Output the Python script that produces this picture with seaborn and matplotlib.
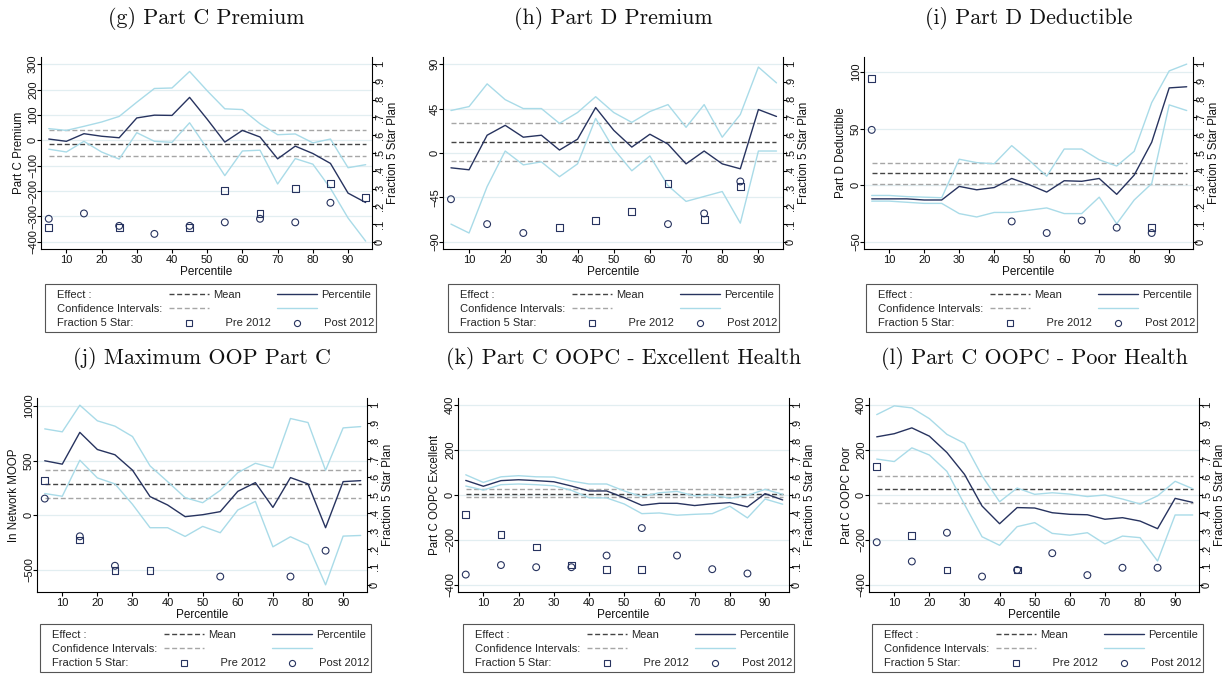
import numpy as np
import pandas as pd
import matplotlib
matplotlib.use("Agg")
import matplotlib.pyplot as plt
from matplotlib.lines import Line2D
from matplotlib.patches import Rectangle
import seaborn as sns

# ---------------- data ----------------
pct = [5, 10, 15, 20, 25, 30, 35, 40, 45, 50, 55, 60, 65, 70, 75, 80, 85, 90, 95]
frac_ticks = [0, .1, .2, .3, .4, .5, .6, .7, .8, .9, 1]
frac_labels = ["0", ".1", ".2", ".3", ".4", ".5", ".6", ".7", ".8", ".9", "1"]

# (g) Part C Premium
g_pctl = [5, -4, 26, 16, 10, 88, 99, 98, 169, 83, -7, 39, 13, -73, -23, -52, -91, -208, -245]
g_upper = [46, 39, 55, 72, 94, 150, 204, 206, 271, 195, 124, 121, 65, 22, 25, -10, 5, -108, -96]
g_lower = [-35, -46, -4, -46, -74, 30, -4, -8, 69, -33, -139, -42, -39, -172, -72, -94, -189, -306, -397]
g_mean = [-13, -63, 42]  # mean, lower CI, upper CI
g_pre_x = [5, 25, 45, 55, 65, 75, 85, 95]
g_pre = [0.08, 0.08, 0.08, 0.29, 0.16, 0.30, 0.33, 0.25]
g_post_x = [5, 15, 25, 35, 45, 55, 65, 75, 85]
g_post = [0.13, 0.16, 0.09, 0.045, 0.09, 0.11, 0.13, 0.11, 0.22]
g_ticks = [-400, -300, -200, -100, 0, 100, 200, 300]

# (h) Part D Premium
h_pctl = [-15, -17, 18, 28, 16, 18, 3, 14, 46, 23, 6, 19, 9, -11, 2, -11, -16, 44, 37]
h_upper = [43, 47, 70, 54, 45, 45, 30, 41, 57, 41, 31, 42, 49, 26, 49, 16, 39, 87, 71]
h_lower = [-72, -81, -34, 2, -12, -9, -24, -11, 35, 4, -18, -3, -33, -49, -44, -39, -71, 2, 2]
h_mean = [11, -8, 30]
h_pre_x = [35, 45, 55, 65, 75, 85]
h_pre = [0.08, 0.12, 0.17, 0.33, 0.125, 0.31]
h_post_x = [5, 15, 25, 65, 75, 85]
h_post = [0.24, 0.10, 0.05, 0.10, 0.16, 0.34]
h_ticks = [-90, -45, 0, 45, 90]

# (i) Part D Deductible
i_pctl = [-12, -12, -12, -13, -13, -1, -4, -2, 6, 0.5, -6, 4, 3.5, 6, -8, 9, 38, 86, 87]
i_upper = [-9, -9, -10, -10.5, -11, 23, 20, 19, 35, 22, 8, 32, 32, 22.5, 17, 30, 73, 101, 107]
i_lower = [-14, -14, -15, -16, -16, -25, -28, -24, -24, -22, -20, -25, -25, -10.5, -34, -13, 1.5, 71, 66]
i_mean = [11, 1.5, 20]
i_pre_x = [5, 85]
i_pre = [0.92, 0.08]
i_post_x = [5, 45, 55, 65, 75, 85]
i_post = [0.63, 0.115, 0.05, 0.12, 0.08, 0.05]
i_ticks = [-50, 0, 50, 100]

# (j) Maximum OOP Part C
j_pctl = [500, 469, 760, 603, 555, 414, 172, 95, -12, 6, 34, 220, 300, 73, 346, 288, -113, 309, 318]
j_upper = [792, 765, 1009, 866, 817, 722, 453, 309, 162, 116, 229, 391, 477, 434, 887, 850, 413, 801, 813]
j_lower = [200, 175, 505, 343, 288, 101, -113, -113, -193, -101, -159, 49, 128, -288, -196, -269, -636, -190, -184]
j_mean = [290, 162, 419]
j_pre_x = [5, 15, 25, 35]
j_pre = [0.58, 0.25, 0.08, 0.08]
j_post_x = [5, 15, 25, 55, 75, 85]
j_post = [0.48, 0.27, 0.106, 0.046, 0.046, 0.19]
j_ticks = [-500, 0, 500, 1000]

# (k) Part C OOPC - Excellent Health
k_pctl = [65, 39, 64, 68, 64, 59, 40, 18, 18, -12, -46, -37, -37, -47, -39, -34, -53, 6, -22]
k_upper = [90, 56, 81, 86, 81, 80, 62, 49, 49, 18, -7, 10, 16, -4, 1.5, -15, -1.5, 25, 3]
k_lower = [40, 22, 46, 49, 46, 41, 21, -12, -13, -40, -83, -80, -90, -86, -83, -50, -102, -18, -41]
k_mean = [4, -7, 25]
k_pre_x = [5, 15, 25, 35, 45, 55]
k_pre = [0.39, 0.28, 0.21, 0.11, 0.087, 0.087]
k_post_x = [5, 15, 25, 35, 45, 55, 65, 75, 85]
k_post = [0.057, 0.11, 0.098, 0.098, 0.163, 0.316, 0.163, 0.087, 0.063]
k_ticks = [-400, -200, 0, 200, 400]

# (l) Part C OOPC - Poor Health
l_pctl = [259, 273, 299, 262, 189, 92, -49, -128, -56, -58, -79, -86, -88, -108, -101, -116, -150, -15, -33]
l_upper = [358, 397, 388, 340, 270, 230, 85, -30, 31, 3, 10, 4, -7, 0, -18, -40, -4, 61, 28]
l_lower = [160, 149, 210, 178, 105, -42, -186, -224, -141, -123, -171, -179, -168, -218, -183, -190, -294, -89, -89]
l_mean = [25, -34, 83]
l_pre_x = [5, 15, 25, 45]
l_pre = [0.66, 0.276, 0.083, 0.083]
l_post_x = [5, 15, 25, 35, 45, 55, 65, 75, 85]
l_post = [0.237, 0.13, 0.29, 0.046, 0.083, 0.176, 0.054, 0.095, 0.095]
l_ticks = [-400, -200, 0, 200, 400]

titles = ["(g) Part C Premium", "(h) Part D Premium", "(i) Part D Deductible",
          "(j) Maximum OOP Part C", "(k) Part C OOPC - Excellent Health",
          "(l) Part C OOPC - Poor Health"]
ylabels = ["Part C Premium", "", "Part D Deductible", "In Network MOOP",
           "Part C OOPC Excellent", "Part C OOPC Poor"]

panels = [
    (g_pctl, g_upper, g_lower, g_mean, g_pre_x, g_pre, g_post_x, g_post, g_ticks),
    (h_pctl, h_upper, h_lower, h_mean, h_pre_x, h_pre, h_post_x, h_post, h_ticks),
    (i_pctl, i_upper, i_lower, i_mean, i_pre_x, i_pre, i_post_x, i_post, i_ticks),
    (j_pctl, j_upper, j_lower, j_mean, j_pre_x, j_pre, j_post_x, j_post, j_ticks),
    (k_pctl, k_upper, k_lower, k_mean, k_pre_x, k_pre, k_post_x, k_post, k_ticks),
    (l_pctl, l_upper, l_lower, l_mean, l_pre_x, l_pre, l_post_x, l_post, l_ticks),
]

# ---------------- style / layout ----------------
sns.set_theme(style="white")
plt.rcParams['font.family'] = ['Liberation Sans', 'DejaVu Sans']
plt.rcParams['axes.unicode_minus'] = True

W, H = 1227, 676
NAVY = "#27335f"
LTBLUE = "#a9dbe8"
DKGRAY = "#444444"
GRAY = "#a6a6a6"
GRID = "#e2eef1"
DASH = (0, (3.6, 1.9))

# axes boxes in pixels: left, top, right, bottom
axes_px = [(41, 57, 372, 249), (443, 57, 783, 249), (864, 57, 1193, 249),
           (37, 398, 367, 592), (458, 398, 789, 592), (869, 398, 1199, 592)]
legend_px = [(45, 284), (448, 284), (866, 284), (40, 624), (463, 624), (872, 624)]
title_y = [18, 18, 18, 358, 358, 358]
LEG_W, LEG_H = 331, 48

fig = plt.figure(figsize=(W / 100, H / 100), dpi=100)
fig.patch.set_facecolor("white")

for idx, (pctl, upper, lower, mean, pre_x, pre, post_x, post, ticks) in enumerate(panels):
    l, t, r, b = axes_px[idx]
    wpx = r - l
    ax = fig.add_axes([l / W, 1 - b / H, wpx / W, (b - t) / H])
    ax2 = ax.twinx()

    lo = min(ticks[0], min(lower))
    hi = max(ticks[-1], max(upper))
    m = 0.04 * (hi - lo)
    ax.set_ylim(lo - m, hi + m)
    ax2.set_ylim(-0.04, 1.04)
    ax.set_xlim(2.8, 96.8)

    # grid
    ax.set_yticks(ticks)
    ax.yaxis.grid(True, color=GRID, lw=0.9)
    ax.xaxis.grid(False)
    ax.set_axisbelow(True)
    ax2.grid(False)

    # mean effect and its CI
    ax.hlines([mean[1], mean[2]], pct[0], pct[-1], colors=GRAY, linestyles=DASH, lw=1.0)
    ax.hlines([mean[0]], pct[0], pct[-1], colors=DKGRAY, linestyles=DASH, lw=1.0)

    # percentile effects with CI
    sns.lineplot(x=pct, y=upper, ax=ax, color=LTBLUE, lw=1.0)
    sns.lineplot(x=pct, y=lower, ax=ax, color=LTBLUE, lw=1.0)
    sns.lineplot(x=pct, y=pctl, ax=ax, color=NAVY, lw=1.0)

    # fraction 5-star
    sns.scatterplot(x=pre_x, y=pre, ax=ax2, marker="s", s=24, facecolor="none",
                    edgecolor=NAVY, linewidth=0.8)
    sns.scatterplot(x=post_x, y=post, ax=ax2, marker="o", s=24, facecolor="none",
                    edgecolor=NAVY, linewidth=0.8)

    # ticks & labels
    ax.set_yticklabels([str(v).replace("-", "\u2212") for v in ticks], rotation=90,
                       va="center", fontsize=8)
    ax.set_xticks(list(range(10, 91, 10)))
    ax.set_xticklabels([str(v) for v in range(10, 91, 10)], fontsize=8)
    ax2.set_yticks(frac_ticks)
    ax2.set_yticklabels(frac_labels, rotation=90, va="center", fontsize=8)
    for a in (ax, ax2):
        a.tick_params(axis="both", length=2.8, width=0.8, color="black", pad=-0.6,
                      labelcolor="#111111", direction="out")
    ax.tick_params(axis="x", bottom=True, pad=1.5)
    ax.tick_params(axis="y", left=True)
    ax2.tick_params(axis="y", right=True)

    ax.set_xlabel("Percentile", fontsize=8.5, labelpad=1, color="#111111")
    ax.set_ylabel(ylabels[idx], fontsize=8.3, color="#111111")
    ax.yaxis.set_label_coords(-16.5 / wpx, 0.5)
    ax2.set_ylabel("Fraction 5 Star Plan", fontsize=8.3, color="#111111")
    ax2.yaxis.set_label_coords(1 + 15 / wpx, 0.5)

    for s in ax.spines.values():
        s.set_visible(False)
    for s in ax2.spines.values():
        s.set_visible(False)
    for name in ("left", "bottom"):
        ax.spines[name].set_visible(True)
        ax.spines[name].set_color("black")
        ax.spines[name].set_linewidth(0.8)
    ax2.spines["right"].set_visible(True)
    ax2.spines["right"].set_color("black")
    ax2.spines["right"].set_linewidth(0.8)

    # title
    fig.text((l + r) / 2 / W, 1 - title_y[idx] / H, titles[idx], ha="center", va="center",
             fontsize=15.8, family=["cmr10", "DejaVu Serif"], color="#111111")

    # legend
    blank = Line2D([], [], ls="none")
    h_mean = Line2D([], [], color=DKGRAY, ls=DASH, lw=1.0)
    h_cim = Line2D([], [], color=GRAY, ls=DASH, lw=1.0)
    h_pre = Line2D([], [], ls="none", marker="s", ms=4.4, mfc="none", mec=NAVY, mew=0.8)
    h_pct = Line2D([], [], color=NAVY, lw=1.0)
    h_ci = Line2D([], [], color=LTBLUE, lw=1.0)
    h_post = Line2D([], [], ls="none", marker="o", ms=4.4, mfc="none", mec=NAVY, mew=0.8)
    handles = [blank, blank, blank, h_mean, h_cim, h_pre, h_pct, h_ci, h_post]
    labels = ["Effect :", "Confidence Intervals:", "Fraction 5 Star:",
              "Mean", "", "    Pre 2012", "Percentile", "", " Post 2012"]
    bx, by = legend_px[idx]
    fs_px = 8 * 100 / 72
    ax_x = bx + 12 - (3.6 + 0.35) * fs_px
    fig.legend(handles, labels, ncol=3, loc="upper left",
               bbox_to_anchor=(ax_x / W, 1 - (by + 5.5) / H),
               bbox_transform=fig.transFigure, frameon=False, fontsize=8,
               handlelength=3.6, handletextpad=0.35, columnspacing=0.6,
               labelspacing=0.4, borderpad=0, borderaxespad=0, numpoints=1)
    fig.add_artist(Rectangle((bx / W, 1 - (by + LEG_H) / H), LEG_W / W, LEG_H / H,
                             transform=fig.transFigure, fill=False, ec="#555555", lw=0.8))

fig.savefig("out.png", dpi=100, facecolor="white")
